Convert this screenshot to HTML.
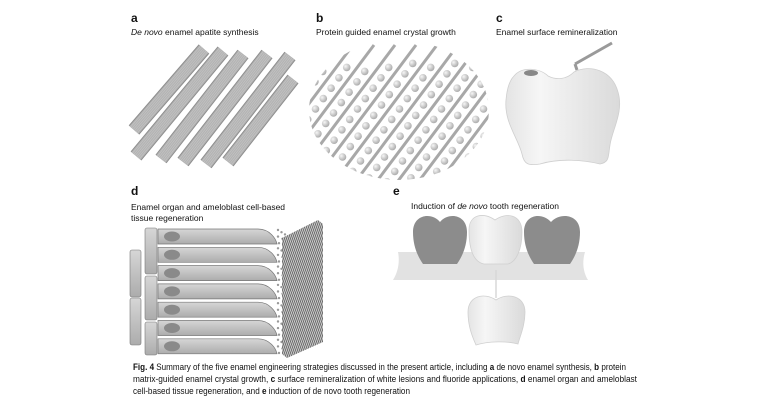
<!DOCTYPE html>
<html><head><meta charset="utf-8"><style>
html,body{margin:0;padding:0;background:#fff}
svg{display:block}
text{font-family:"Liberation Sans",sans-serif;fill:#111}
</style></head><body>
<svg id="s" width="758" height="404" viewBox="0 0 758 404" xmlns="http://www.w3.org/2000/svg">
<defs>
<radialGradient id="ball" cx="0.35" cy="0.35" r="0.7"><stop offset="0" stop-color="#f6f6f6"/><stop offset="1" stop-color="#a8a8a8"/></radialGradient>
<linearGradient id="tooth" x1="0" y1="0" x2="1" y2="0"><stop offset="0" stop-color="#e4e4e4"/><stop offset="0.3" stop-color="#f6f6f6"/><stop offset="1" stop-color="#dadada"/></linearGradient>
<linearGradient id="cell" x1="0" y1="0" x2="0" y2="1"><stop offset="0" stop-color="#d6d6d6"/><stop offset="1" stop-color="#acacac"/></linearGradient>
<clipPath id="cb"><ellipse cx="399" cy="110" rx="90" ry="70"/></clipPath>
<clipPath id="ch"><path d="M282,238 L318,220 L323,224 L323,342 L287,358 L282,354 Z"/></clipPath>
</defs>
<text x="131" y="22" font-size="12" font-weight="bold">a</text>
<text x="131" y="35" font-size="8.5"><tspan font-style="italic">De novo</tspan> enamel apatite synthesis</text>
<text x="316" y="22" font-size="12" font-weight="bold">b</text>
<text x="316" y="35" font-size="8.5">Protein guided enamel crystal growth</text>
<text x="496" y="22" font-size="12" font-weight="bold">c</text>
<text x="496" y="35" font-size="8.5">Enamel surface remineralization</text>
<text x="131" y="195" font-size="12" font-weight="bold">d</text>
<text x="131" y="210" font-size="8.5">Enamel organ and ameloblast cell-based</text>
<text x="131" y="221" font-size="8.5">tissue regeneration</text>
<text x="393" y="195" font-size="12" font-weight="bold">e</text>
<text x="411" y="209" font-size="8.5">Induction of <tspan font-style="italic">de novo</tspan> tooth regeneration</text>
<g id="ga"></g>
<g id="gb" clip-path="url(#cb)"></g>
<path d="M514,76 C522,66 540,68 548,76 C556,80 566,80 574,72 C590,64 612,70 618,92 C624,112 612,130 610,145 C608,156 610,162 600,164 C584,160 560,158 540,164 C528,166 524,164 522,154 C518,138 504,122 506,100 C507,88 510,80 514,76 Z" fill="url(#tooth)" stroke="#cfcfcf" stroke-width="0.8"/>
<ellipse cx="531" cy="73" rx="7" ry="3" fill="#888"/>
<line x1="575" y1="64" x2="612" y2="43" stroke="#9a9a9a" stroke-width="3"/>
<line x1="575" y1="64" x2="577" y2="70" stroke="#9a9a9a" stroke-width="3"/>
<g id="gd"></g>
<g id="gh" clip-path="url(#ch)"></g>
<path d="M398,252 L585,252 C582,262 583,272 588,280 L393,280 C398,272 400,262 398,252 Z" fill="#e2e2e2"/>
<path d="M413,232 C413,214 432,212 440,222 C448,212 467,214 467,232 C467,248 461,258 457,264 L423,264 C419,258 413,248 413,232 Z" fill="#8c8c8c"/>
<path d="M524,232 C524,214 542,212 551,222 C560,212 580,214 580,232 C580,248 574,258 570,264 L534,264 C530,258 524,248 524,232 Z" fill="#8c8c8c"/>
<path d="M469,230 C469,214 484,212 495,220 C506,212 522,214 522,232 C522,250 516,262 508,264 L484,264 C474,262 469,250 469,230 Z" fill="url(#tooth)" stroke="#d0d0d0" stroke-width="0.8"/>
<line x1="496" y1="270" x2="496" y2="298" stroke="#d8d8d8" stroke-width="1.5"/>
<path d="M468,312 C468,296 484,292 496,300 C508,292 525,296 525,312 C525,326 520,336 518,344 C508,341 488,341 476,345 C472,336 468,326 468,312 Z" fill="url(#tooth)" stroke="#d0d0d0" stroke-width="0.8"/>
<text x="133" y="370" font-size="9.6" textLength="493" lengthAdjust="spacingAndGlyphs"><tspan font-weight="bold">Fig. 4</tspan>  Summary of the five enamel engineering strategies discussed in the present article, including <tspan font-weight="bold">a</tspan> de novo enamel synthesis, <tspan font-weight="bold">b</tspan> protein</text>
<text x="133" y="382" font-size="9.6" textLength="504" lengthAdjust="spacingAndGlyphs">matrix-guided enamel crystal growth, <tspan font-weight="bold">c</tspan> surface remineralization of white lesions and fluoride applications, <tspan font-weight="bold">d</tspan> enamel organ and ameloblast</text>
<text x="133" y="394" font-size="9.6" textLength="277" lengthAdjust="spacingAndGlyphs">cell-based tissue regeneration, and <tspan font-weight="bold">e</tspan> induction of de novo tooth regeneration</text>
</svg>
<script>
var NS="http://www.w3.org/2000/svg";
function el(p,t,a){var e=document.createElementNS(NS,t);for(var k in a)e.setAttribute(k,a[k]);document.getElementById(p).appendChild(e);return e;}
var rods=[[207,47,137,132],[226,49,139,158],[246,52,164,161],[270,52,186,164],[293,54,209,166],[296,77,231,164]];
rods.forEach(function(r){
 var x1=r[0]-3,y1=r[1]+2,x2=r[2]-3,y2=r[3]-2;
 el("ga","line",{x1:x1,y1:y1,x2:x2,y2:y2,stroke:"#8e8e8e","stroke-width":14});
 el("ga","line",{x1:x1,y1:y1,x2:x2,y2:y2,stroke:"#b3b3b3","stroke-width":12});
 var dx=x2-x1,dy=y2-y1,L=Math.sqrt(dx*dx+dy*dy),px=-dy/L,py=dx/L;
 for(var o=-4.5;o<=4.6;o+=1.8){el("ga","line",{x1:x1+o*px,y1:y1+o*py,x2:x2+o*px,y2:y2+o*py,stroke:"#c6c6c6","stroke-width":0.6});}
});
for(var i=-8;i<12;i++){
 var x0=290+i*21;
 el("gb","line",{x1:x0,y1:185,x2:x0+105,y2:45,stroke:"#a8a8a8","stroke-width":3});
 for(var j=0;j<12;j++){
  var t=j*13+4+(i%2)*5;
  el("gb","circle",{cx:x0+10.5+t*0.6,cy:185-t*0.8,r:3.8,fill:"url(#ball)"});
 }
}
el("gd","rect",{x:130,y:250,width:11,height:47,rx:2,fill:"url(#cell)",stroke:"#777","stroke-width":0.6});
el("gd","rect",{x:130,y:298,width:11,height:47,rx:2,fill:"url(#cell)",stroke:"#777","stroke-width":0.6});
[[228,46],[276,44],[322,33]].forEach(function(v){el("gd","rect",{x:145,y:v[0],width:12,height:v[1],rx:2,fill:"url(#cell)",stroke:"#777","stroke-width":0.6});});
for(var r=0;r<7;r++){
 var y=228+r*18.3;
 el("gd","path",{d:"M158,"+(y+1)+" h100 c12,0 18,10 19,15 H158 Z",fill:"url(#cell)",stroke:"#777","stroke-width":0.7});
 el("gd","ellipse",{cx:172,cy:y+8.5,rx:8,ry:5,fill:"#8a8a8a"});
 for(var k=0;k<7;k++){el("gd","circle",{cx:278+(k%3)*3.5+(k>3?1:0),cy:y+2+k*2.2,r:1.2,fill:"#999"});}
}
el("gh","rect",{x:280,y:210,width:45,height:160,fill:"#e0e0e0"});
for(var h=0;h<60;h++){
 var xx=210+h*2;
 el("gh","line",{x1:xx,y1:400,x2:xx+70,y2:200,stroke:"#6a6a6a","stroke-width":1.1});
}
</script>
</body></html>
